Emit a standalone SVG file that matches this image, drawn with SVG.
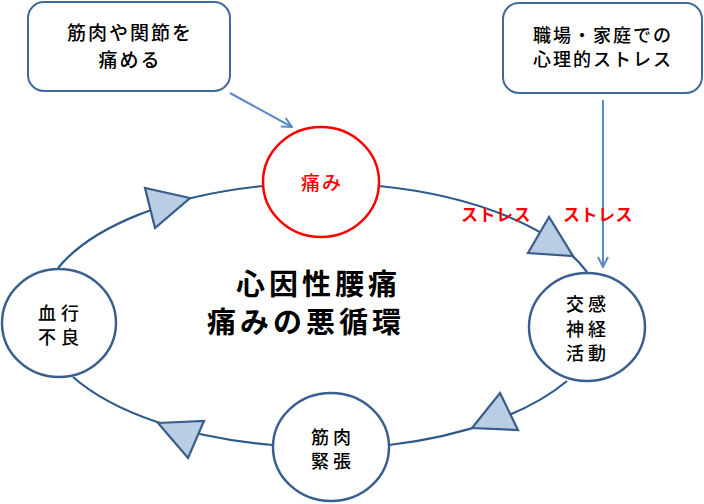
<svg xmlns="http://www.w3.org/2000/svg" width="704" height="504" viewBox="0 0 704 504">
<defs>
<style>
.box{fill:#fff;stroke:#41699e;stroke-width:2}
.node{fill:#fff;stroke:#3a5f8f;stroke-width:2.5}
.pain{fill:#fff;stroke:#ff0000;stroke-width:2.5}
.cyc{fill:none;stroke:#2f5a8c;stroke-width:2.2}
.tri{fill:#b9cde5;stroke:#385d8a;stroke-width:2.2;stroke-linejoin:miter}
.arr{fill:none;stroke:#5b8cc9;stroke-width:2}
text{font-family:"Noto Sans CJK JP","Noto Sans CJK SC",sans-serif;text-anchor:middle;fill:#000;font-weight:500}
.bt{font-size:19px;letter-spacing:2px}
.bt2{font-size:18px;letter-spacing:2px}
.nt{font-size:18px;letter-spacing:4px}
.red{fill:#ff0000}
.st{font-size:17px;font-weight:bold;letter-spacing:0.5px}
.title{font-size:29px;font-weight:bold;letter-spacing:4px;text-anchor:start}
</style>
<marker id="ah" viewBox="0 0 12 12" refX="11" refY="6" markerWidth="12" markerHeight="12" markerUnits="userSpaceOnUse" orient="auto">
<path d="M1,1 L11,6 L1,11" fill="none" stroke="#5b8cc9" stroke-width="2"/>
</marker>
</defs>

<g id="connectors">
<path class="cyc" d="M58,268 A283,132 0 0 1 263,186"/>
<path class="cyc" d="M379,186 A283,132 0 0 1 587,272"/>
<path class="cyc" d="M567,381 A283,132 0 0 1 389,445"/>
<path class="cyc" d="M273,445 A283,132 0 0 1 73,377"/>
<polygon class="tri" points="145,188 155,228 190,198"/>
<polygon class="tri" points="549,217 528,253 573,256"/>
<polygon class="tri" points="500,393 518,430 472,428"/>
<polygon class="tri" points="158,423 204,421 188,458"/>
<line class="arr" x1="230" y1="93" x2="292" y2="127" marker-end="url(#ah)"/>
<line class="arr" x1="603" y1="100" x2="603" y2="267" marker-end="url(#ah)"/>
</g>

<g id="box-muscle">
<rect class="box" x="28" y="2" width="202" height="89" rx="16"/>
<text class="bt" x="130" y="40">筋肉や関節を</text>
<text class="bt" x="130" y="67">痛める</text>
</g>

<g id="box-stress">
<rect class="box" x="503" y="3" width="199" height="90" rx="16"/>
<text class="bt2" x="603" y="42">職場・家庭での</text>
<text class="bt2" x="603" y="66">心理的ストレス</text>
</g>

<g id="node-pain">
<ellipse class="pain" cx="321" cy="182" rx="58" ry="55"/>
<text class="red" x="322" y="190" style="font-size:19px;letter-spacing:2px">痛み</text>
</g>

<g id="node-sympathetic">
<ellipse class="node" cx="587" cy="327" rx="58" ry="54"/>
<text class="nt" x="588" y="311">交感</text>
<text class="nt" x="588" y="336">神経</text>
<text class="nt" x="588" y="360">活動</text>
</g>

<g id="node-tension">
<ellipse class="node" cx="331" cy="447" rx="58" ry="54"/>
<text class="nt" x="333" y="444">筋肉</text>
<text class="nt" x="333" y="468">緊張</text>
</g>

<g id="node-blood">
<ellipse class="node" cx="59" cy="323" rx="57" ry="54"/>
<text class="nt" x="61" y="320" style="letter-spacing:5px">血行</text>
<text class="nt" x="61" y="344" style="letter-spacing:5px">不良</text>
</g>

<g id="labels">
<text class="st red" x="496" y="221">ストレス</text>
<text class="st red" x="598" y="221">ストレス</text>
<text class="title" x="236" y="295">心因性腰痛</text>
<text class="title" x="207" y="333">痛みの悪循環</text>
</g>
</svg>
